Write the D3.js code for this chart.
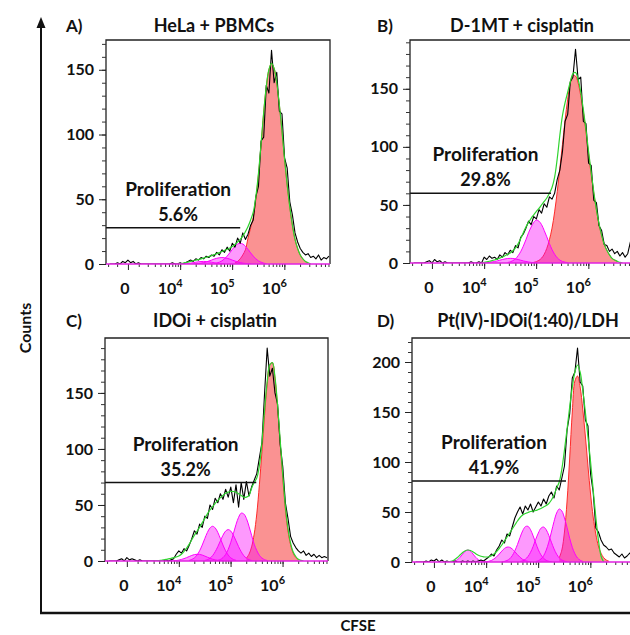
<!DOCTYPE html>
<html>
<head>
<meta charset="utf-8">
<script src="https://cdn.jsdelivr.net/npm/d3@7"></script>
<style>
  body { margin: 0; background: #fff; }
  svg { display: block; }
</style>
</head>
<body>
<svg id="chart" width="630" height="635"></svg>
<script>
// ---------------------------------------------------------------
// CFSE dilution histograms (counts vs CFSE, logicle-style display)
// Series positions are display channels (one unit per decade),
// sampled every 0.05 channel starting at "from".
// ---------------------------------------------------------------
const STEP = 0.05;

const panelLetters = ["A)", "B)", "C)", "D)"];
const panelTitles = ["HeLa + PBMCs", "D-1MT + cisplatin", "IDOi + cisplatin", "Pt(IV)-IDOi(1:40)/LDH"];
const proliferation = ["5.6%", "29.8%", "35.2%", "41.9%"];
const countMax = [173, 192, 199, 224];
const yMajorTicks = [[0, 50, 100, 150], [0, 50, 100, 150], [0, 50, 100, 150], [0, 50, 100, 150, 200]];
const xTickValues = [0, 1e4, 1e5, 1e6];
const xTickExponents = ["", "4", "5", "6"];
const gateLevel = [28, 60, 70, 81];
const gateEnd = [2.15, 2.28, 2.49, 2.53];

// raw event histograms (black)
const histA = { from: -0.35, counts: [
  0,0,0,1,0,2,1,3,1,2,0,1,0,0,0,0,0,0,0,0,0,
  0,0,0,1,0,0,1,0,1,2,
  3,2,4,3,5,4,6,5,7,6,
  9,7,11,9,13,10,16,13,20,16,
  24,19,23,30,34,52,60,95,98,138,
  132,165,140,148,118,116,82,74,48,38,
  24,17,12,9,7,8,5,6,4,7,
  3,5,4,6] };
const histB = { from: -0.35, counts: [
  0,0,0,0,0,1,2,0,3,1,2,0,1,0,0,0,0,0,0,0,0,
  0,1,0,0,1,0,
  5,3,6,4,5,3,7,5,9,7,
  11,9,15,13,22,25,30,36,33,40,
  38,46,43,51,48,57,55,60,72,80,
  96,122,128,156,160,184,158,160,122,120,
  86,84,54,52,32,28,16,15,10,12,
  8,10,6,9,5,8,18,10] };
const histC = { from: -0.35, counts: [
  0,0,0,0,1,2,0,3,1,2,1,0,1,0,0,0,0,0,0,0,0,
  0,1,0,1,2,6,9,7,11,9,
  14,20,27,24,33,30,40,38,50,46,
  56,52,60,55,64,57,66,52,68,48,
  70,55,71,58,66,72,78,92,106,150,
  190,165,172,150,140,104,84,52,38,22,
  16,12,9,7,9,5,7,4,6,3,
  5,3,4,3] };
const histD = { from: -0.35, counts: [
  0,0,0,0,1,0,2,1,3,0,2,0,1,0,0,1,0,0,1,0,1,
  0,1,0,1,2,1,3,5,8,6,
  12,16,22,19,28,26,35,44,50,55,
  48,56,52,58,50,55,60,56,63,58,
  66,70,64,76,72,84,96,132,148,184,
  190,214,180,176,142,136,88,70,34,30,
  22,17,15,12,13,9,7,5,8,4,
  6,9,5,3] };

// proliferation model totals (green)
const fitA = { from: 0.95, counts: [
  0,0.3,0.6,1,1.5,2,2.5,3,3.5,4,4.6,5.2,5.8,6.5,7.2,8,8.8,9.6,10.5,11.4,
  12.4,13.5,15,17,19,21.5,25,29,34,40,52,70,93,117,137,150,155,151,140,123,
  103,81,61,44,30,19,12,7,4,2,1,0] };
const fitB = { from: 0.95, counts: [
  0,0.5,1,1.5,2,2.6,3.3,4.2,5.2,6.3,7.4,8.6,10.5,13,16.5,21,26,31,35,38.5,
  41.5,44.5,47,50,53,56,60,65,74,90,110,127,138,147,156,163,164,158,147,132,
  115,96,78,61,46,34,24,16,11,7,4,2.5,1.5,0.5,0] };
const fitC = { from: 0.55, counts: [
  0,0.3,0.6,1,1.4,1.9,2.4,3,3.6,4.5,6,8.5,11.5,15,19,23,26.5,30,34,38,
  42,45.5,48.5,51.5,54,56.5,58.5,60.5,61.5,62,62,61.5,60,58.5,57,57,58.5,65,70,74,
  85,106,135,160,175,177,164,139,108,77,49,29,16,8,4,1.5,0.5,0] };
const fitD = { from: 0.25, counts: [
  0,0.3,1,2.5,4.5,7,9.5,11.3,12,11.5,10,8.3,6.8,5.8,5.2,5,5.2,6.2,8,10.5,
  13.5,17,21,25,29,33,37,41,44.5,47,48.5,49.5,50.5,51,51.5,52.5,53.5,55,56.5,58.5,
  62,67,74,80,93,112,133,155,175,190,197,190,172,150,125,100,72,45,22,6,0] };

// parent (undivided) peaks, red
const redA = { from: 2.05, counts: [1,2,4,7,11,20,28,36,50,69,92,117,137,150,155,151,140,123,103,81,61,44,30,19,12,7,4,2,1] };
const redB = { from: 1.95, counts: [0.6,1.2,2.3,4.2,7.5,12.6,20,30,44,61.5,81.5,102,123,141,155,161.5,161,155,144,130,113,94,76,60,46,33,24,16,11,7,4,2.4,1.5] };
const redC = { from: 2.30, counts: [2.6,6,12.6,24,42,68,98,130,158,175,177,163,137,105,74,46,27,14.5,7,3,1.2] };
const redD = { from: 2.40, counts: [4.2,12,30,61,104,150,181,186,175,153,126,96,68,45,28,16,8.8,4.4,2,0.8] };

// daughter generation peaks, magenta
const gensA = [
  { from: 1.65, counts: [0.3,0.7,1.4,2.4,4,6.1,8.6,11.3,13.7,15.4,16,15.4,13.7,11.3,8.6,6.1,4,2.4,1.4,0.7,0.3] },
  { from: 1.25, counts: [0.1,0.2,0.4,0.7,1.1,1.6,2.3,3,3.8,4.4,4.8,5,4.8,4.4,3.8,3,2.3,1.6,1.1,0.7,0.4,0.2,0.1] },
  { from: 1.05, counts: [0.1,0.2,0.4,0.7,1,1.4,1.7,1.9,2,1.9,1.7,1.4,1,0.7,0.4,0.2,0.1] }
];
const gensB = [
  { from: 1.45, counts: [0.5,1,2,3.6,6.2,9.8,14.5,20,26,31,35,37,36,33,28,22.5,16.7,11.6,7.5,4.5,2.5,1.3,0.7,0.3] },
  { from: 1.00, counts: [0.2,0.3,0.5,0.9,1.3,1.8,2.4,3,3.5,3.9,4,3.9,3.5,3,2.4,1.8,1.3,0.9,0.5,0.3,0.2] }
];
const gensC = [
  { from: 1.75, counts: [0.6,1.4,3,5.8,10.3,16.7,24.4,32.5,39,42.7,42,38,31,23,15,9.3,5.1,2.6,1.2,0.5] },
  { from: 1.50, counts: [0.5,1.2,2.5,4.8,8.3,12.8,18,23,26.7,28,26.7,23,18,12.8,8.3,4.8,2.5,1.2,0.5] },
  { from: 1.20, counts: [0.6,1.4,2.8,5.3,9.1,14.2,20,25.5,29.5,31,29.5,25.5,20,14.2,9.1,5.3,2.8,1.4,0.6] },
  { from: 0.85, counts: [0.1,0.2,0.4,0.8,1.4,2.1,3,4,5,5.7,6,5.9,5.3,4.4,3.4,2.5,1.6,1,0.6,0.3,0.1] }
];
const gensD = [
  { from: 1.95, counts: [0.5,1.3,3,6.2,11.8,19.9,30,40.5,49,53,51,44,34.4,23.7,14.7,8.2,4,1.8,0.7] },
  { from: 1.65, counts: [0.5,1.2,2.7,5.4,9.7,15.6,22.7,29,33.8,35,32.3,26.6,19.8,13.1,7.8,4.1,2,0.8,0.3] },
  { from: 1.30, counts: [0.2,0.6,1.5,3.2,6.3,11.2,17.5,24.7,31.2,35.3,35.7,32.3,26.1,19,12.2,7.1,3.7,1.7,0.7,0.3] },
  { from: 0.95, counts: [0.1,0.3,0.7,1.5,3,5.1,7.9,10.9,13.5,14.9,14.7,13,10.3,7.3,4.7,2.6,1.3,0.6,0.2] },
  { from: 0.30, counts: [0.1,0.3,0.9,2.3,4.7,7.9,10.8,12,10.8,7.9,4.7,2.3,0.9,0.3,0.1] }
];

const panels = [
  { hist: histA, fit: fitA, red: redA, gens: gensA },
  { hist: histB, fit: fitB, red: redB, gens: gensB },
  { hist: histC, fit: fitC, red: redC, gens: gensC },
  { hist: histD, fit: fitD, red: redD, gens: gensD }
];

// ---------------- layout ----------------
const FONT = "Lato, 'Open Sans', 'DejaVu Sans', sans-serif";
const frames = [
  { x0: 106, x1: 330, y0: 264, y1: 40,  letterX: 66,  titleX: 214, headY: 32 },
  { x0: 410, x1: 634, y0: 263, y1: 40,  letterX: 377, titleX: 522, headY: 32 },
  { x0: 105, x1: 328, y0: 561, y1: 338, letterX: 66,  titleX: 215, headY: 327 },
  { x0: 412, x1: 636, y0: 562, y1: 338, letterX: 377, titleX: 528, headY: 327 }
];
const channelDomain = [-0.42, 3.87];
const COFACTOR = 2020;
const toChannel = v => Math.asinh(v / COFACTOR) / Math.LN10;

const svg = d3.select("#chart");
const defs = svg.append("defs");

const pts = s => s.counts.map((c, i) => [s.from + i * STEP, c]);

panels.forEach((p, i) => {
  const f = frames[i];
  const x = d3.scaleLinear().domain(channelDomain).range([f.x0, f.x1]);
  const y = d3.scaleLinear().domain([0, countMax[i]]).range([f.y0, f.y1]);
  const g = svg.append("g");

  defs.append("clipPath").attr("id", "clip" + i)
    .append("rect").attr("x", f.x0).attr("y", f.y1 - 10)
    .attr("width", f.x1 - f.x0).attr("height", f.y0 - f.y1 + 10);

  const plot = g.append("g").attr("clip-path", `url(#clip${i})`);

  const area = d3.area().x(d => x(d[0])).y0(y(0)).y1(d => y(d[1])).curve(d3.curveCatmullRom);
  const smooth = d3.line().x(d => x(d[0])).y(d => y(d[1])).curve(d3.curveCatmullRom);
  const jagged = d3.line().x(d => x(d[0])).y(d => y(d[1]));

  // parent peak
  plot.append("path").attr("d", area(pts(p.red)))
    .attr("fill", "rgba(246, 60, 60, 0.56)");
  plot.append("path").attr("d", smooth(pts(p.red)))
    .attr("fill", "none").attr("stroke", "#ff2a2a").attr("stroke-width", 1);

  // generation peaks
  p.gens.forEach(s => {
    plot.append("path").attr("d", area(pts(s)))
      .attr("fill", "rgba(250, 0, 250, 0.4)");
    plot.append("path").attr("d", smooth(pts(s)))
      .attr("fill", "none").attr("stroke", "#ff00ff").attr("stroke-width", 1);
  });

  // raw histogram
  plot.append("path").attr("d", jagged(pts(p.hist)))
    .attr("fill", "none").attr("stroke", "#000").attr("stroke-width", 1.1)
    .attr("stroke-linejoin", "round");

  // model total
  plot.append("path").attr("d", smooth(pts(p.fit)))
    .attr("fill", "none").attr("stroke", "#2fd42f").attr("stroke-width", 1.2);

  // proliferation gate
  const gy = y(gateLevel[i]);
  const gx = x(gateEnd[i]);
  g.append("line").attr("x1", f.x0).attr("x2", gx).attr("y1", gy).attr("y2", gy)
    .attr("stroke", "#111").attr("stroke-width", 1.5);
  const labelX = (f.x0 + gx) / 2 + 5;
  g.append("text").attr("x", labelX).attr("y", gy - 32)
    .attr("text-anchor", "middle").attr("font-family", FONT).attr("font-weight", 700)
    .attr("font-size", 19).attr("fill", "#111").text("Proliferation");
  g.append("text").attr("x", labelX).attr("y", gy - 7)
    .attr("text-anchor", "middle").attr("font-family", FONT).attr("font-weight", 700)
    .attr("font-size", 18).attr("fill", "#111").text(proliferation[i]);

  // frame: left axis, top, right
  g.append("path").attr("d", `M${f.x0},${f.y0}V${f.y1}H${f.x1}V${f.y0}`)
    .attr("fill", "none").attr("stroke", "#222").attr("stroke-width", 1.3);

  // y axis ticks
  const yMinor = d3.range(0, countMax[i], 10);
  g.append("g").attr("transform", `translate(${f.x0},0)`)
    .call(d3.axisLeft(y).tickValues(yMinor).tickSize(4).tickFormat(""))
    .call(a => a.select(".domain").remove())
    .selectAll("line").attr("stroke", "#333");
  const ya = g.append("g").attr("transform", `translate(${f.x0},0)`)
    .call(d3.axisLeft(y).tickValues(yMajorTicks[i]).tickSize(7).tickPadding(5));
  ya.select(".domain").remove();
  ya.selectAll("line").attr("stroke", "#222");
  ya.attr("font-family", FONT).attr("font-size", 16);
  ya.selectAll("text").attr("font-weight", 700).attr("fill", "#111");

  // x axis ticks
  const xMinorVals = [];
  [3, 4, 5, 6].forEach(n => d3.range(1, 10).forEach(k => xMinorVals.push(k * Math.pow(10, n))));
  d3.range(1, 10).forEach(k => xMinorVals.push(-k * 1000));
  const minorCh = xMinorVals.map(toChannel).filter(c => c > channelDomain[0] && c < channelDomain[1]);
  g.append("g").attr("transform", `translate(0,${f.y0})`)
    .call(d3.axisBottom(x).tickValues(minorCh).tickSize(3).tickFormat(""))
    .call(a => a.select(".domain").remove())
    .selectAll("line").attr("stroke", "#333");
  const majorCh = xTickValues.map(toChannel);
  g.append("g").attr("transform", `translate(0,${f.y0})`)
    .call(d3.axisBottom(x).tickValues(majorCh).tickSize(6).tickFormat(""))
    .call(a => a.select(".domain").remove())
    .selectAll("line").attr("stroke", "#222");

  // baseline (peak outlines run along zero)
  g.append("line").attr("x1", f.x0).attr("x2", f.x1).attr("y1", f.y0).attr("y2", f.y0)
    .attr("stroke", "#e020e0").attr("stroke-width", 1.5);

  xTickValues.forEach((v, k) => {
    const cx = x(toChannel(v));
    const t = g.append("text").attr("y", f.y0 + 30)
      .attr("font-family", FONT).attr("font-weight", 700).attr("font-size", 16)
      .attr("fill", "#111").attr("text-anchor", "middle");
    if (xTickExponents[k] === "") {
      t.attr("x", cx - 3).text(String(v));
    } else {
      t.attr("x", cx - 10);
      t.append("tspan").text("10");
      t.append("tspan").attr("font-size", 11).attr("dy", -7).text(xTickExponents[k]);
    }
  });

  // headings
  g.append("text").attr("x", f.letterX).attr("y", f.headY)
    .attr("font-family", FONT).attr("font-weight", 700).attr("font-size", 17)
    .attr("fill", "#111").text(panelLetters[i]);
  g.append("text").attr("x", f.titleX).attr("y", f.headY).attr("text-anchor", "middle")
    .attr("font-family", FONT).attr("font-weight", 700).attr("font-size", 18)
    .attr("fill", "#111").text(panelTitles[i]);
});

// shared outer axes
svg.append("line").attr("x1", 41).attr("x2", 41).attr("y1", 614).attr("y2", 26)
  .attr("stroke", "#111").attr("stroke-width", 2);
svg.append("path").attr("d", "M41,17L36.5,28H45.5Z").attr("fill", "#111");
svg.append("line").attr("x1", 40).attr("x2", 630).attr("y1", 613).attr("y2", 613)
  .attr("stroke", "#111").attr("stroke-width", 2.5);
svg.append("text").attr("transform", "translate(31,328) rotate(-90)")
  .attr("text-anchor", "middle").attr("font-family", FONT).attr("font-weight", 700)
  .attr("font-size", 16).attr("fill", "#111").text("Counts");
svg.append("text").attr("x", 358).attr("y", 631).attr("text-anchor", "middle")
  .attr("font-family", FONT).attr("font-weight", 700).attr("font-size", 15)
  .attr("fill", "#111").text("CFSE");
</script>
</body>
</html>
